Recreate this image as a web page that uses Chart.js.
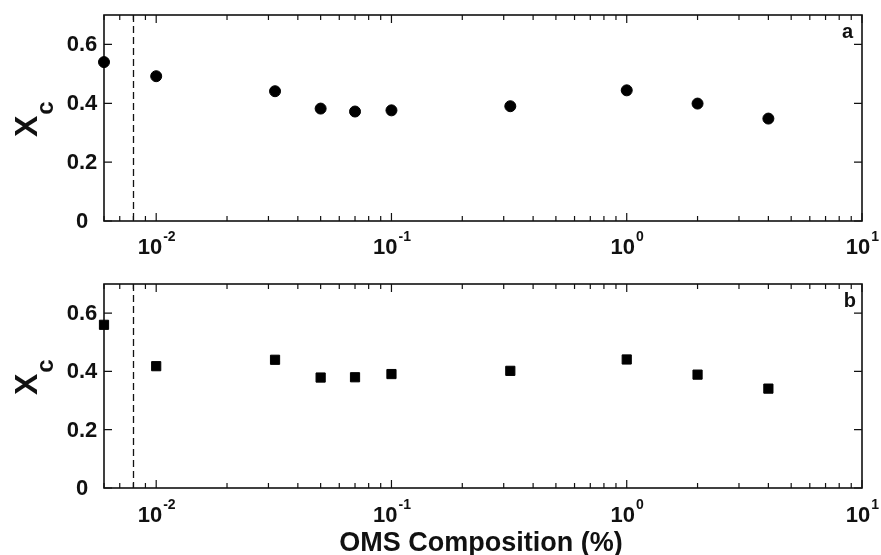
<!DOCTYPE html>
<html>
<head>
  <title>Xc vs OMS composition</title>
  <script src="https://cdn.jsdelivr.net/npm/chart.js"></script>
  <style>
    body { margin: 0; background: #fff; }
    .wrap { position: relative; width: 881px; height: 555px; }
    canvas { position: absolute; left: 0; }
    #panelA { top: 0; }
    #panelB { top: 270px; }
  </style>
</head>
<body>
<div class="wrap">
  <canvas id="panelA" width="881" height="270"></canvas>
  <canvas id="panelB" width="881" height="285"></canvas>
</div>
<script>
  // OMS composition (%) and crystallinity Xc for both sample sets
  const omsComposition = [0.006, 0.01, 0.032, 0.05, 0.07, 0.1, 0.32, 1, 2, 4];
  const xcSetA = [0.54, 0.492, 0.441, 0.382, 0.372, 0.376, 0.39, 0.444, 0.399, 0.348];
  const xcSetB = [0.56, 0.418, 0.44, 0.379, 0.38, 0.391, 0.402, 0.441, 0.389, 0.341];
  const yTicks = [0, 0.2, 0.4, 0.6];
  const xDecades = [-2, -1, 0, 1];
  const thresholdX = 0.008;

  const FONT = '"Liberation Sans", Arial, Helvetica, sans-serif';
  const INK = '#111';

  function drawPowerLabel(ctx, exp, x, baseline) {
    const base = '10', sup = String(exp);
    ctx.font = 'bold 22px ' + FONT;
    const wb = ctx.measureText(base).width;
    ctx.font = 'bold 14px ' + FONT;
    const ws = ctx.measureText(sup).width;
    const left = x - (wb + ws) / 2;
    ctx.textAlign = 'left';
    ctx.textBaseline = 'alphabetic';
    ctx.font = 'bold 22px ' + FONT;
    ctx.fillText(base, left, baseline);
    ctx.font = 'bold 14px ' + FONT;
    ctx.fillText(sup, left + wb + 1, baseline - 13);
  }

  // frame, inward ticks, labels and the dashed threshold line
  const framePlugin = {
    id: 'frame',
    beforeDatasetsDraw(chart, args, o) {
      const ctx = chart.ctx;
      const { left, right, top, bottom } = chart.chartArea;
      const xs = chart.scales.x, ys = chart.scales.y;
      ctx.save();
      ctx.fillStyle = INK;
      ctx.strokeStyle = INK;

      // dashed line
      ctx.lineWidth = 1.3;
      ctx.setLineDash([7, 4]);
      const dx = Math.round(xs.getPixelForValue(thresholdX)) + 0.5;
      ctx.beginPath();
      ctx.moveTo(dx, top);
      ctx.lineTo(dx, bottom);
      ctx.stroke();
      ctx.setLineDash([]);

      // box
      ctx.lineWidth = 1.6;
      ctx.strokeRect(left, top, right - left, bottom - top);

      // x ticks (log, major + minor)
      ctx.lineWidth = 1.2;
      ctx.beginPath();
      for (let e = -3; e <= 1; e++) {
        for (let k = 1; k <= 9; k++) {
          const v = k * Math.pow(10, e);
          if (v < xs.min - 1e-12 || v > xs.max + 1e-12) continue;
          const px = xs.getPixelForValue(v);
          const len = k === 1 ? 8 : 5;
          ctx.moveTo(px, bottom);
          ctx.lineTo(px, bottom - len);
          ctx.moveTo(px, top);
          ctx.lineTo(px, top + len);
        }
      }
      // y ticks both sides
      yTicks.forEach(v => {
        const py = ys.getPixelForValue(v);
        ctx.moveTo(left, py);
        ctx.lineTo(left + 8, py);
        ctx.moveTo(right, py);
        ctx.lineTo(right - 8, py);
      });
      ctx.stroke();

      // y tick labels
      ctx.font = 'bold 22px ' + FONT;
      ctx.textAlign = 'center';
      ctx.textBaseline = 'middle';
      yTicks.forEach(v => {
        ctx.fillText(v === 0 ? '0' : v.toFixed(1), 82, ys.getPixelForValue(v) + 1);
      });

      // x tick labels
      xDecades.forEach(e => {
        drawPowerLabel(ctx, e, xs.getPixelForValue(Math.pow(10, e)), o.xLabelBaseline);
      });

      // y axis title X_c
      ctx.save();
      ctx.translate(37, o.yTitleBottom);
      ctx.rotate(-Math.PI / 2);
      ctx.textAlign = 'left';
      ctx.textBaseline = 'alphabetic';
      ctx.font = 'bold 32px ' + FONT;
      ctx.fillText('X', 0, 0);
      const wx = ctx.measureText('X').width;
      ctx.font = 'bold 24px ' + FONT;
      ctx.fillText('c', wx + 1, 16);
      ctx.restore();

      // panel letter
      ctx.font = 'bold 20px ' + FONT;
      ctx.textAlign = 'right';
      ctx.textBaseline = 'alphabetic';
      ctx.fillText(o.letter, o.letterX, o.letterY);

      // x axis title
      if (o.xTitle) {
        ctx.font = 'bold 27px ' + FONT;
        ctx.textAlign = 'center';
        ctx.fillText(o.xTitle, 481, o.xTitleBaseline);
      }
      ctx.restore();
    }
  };

  function makePanel(id, values, style, radius, pad, frameOpts) {
    return new Chart(document.getElementById(id), {
      type: 'scatter',
      data: {
        datasets: [{
          data: omsComposition.map((x, i) => ({ x: x, y: values[i] })),
          pointStyle: style,
          pointRadius: radius,
          pointBorderWidth: 1,
          backgroundColor: '#000',
          borderColor: '#000',
          clip: false
        }]
      },
      options: {
        responsive: false,
        animation: false,
        events: [],
        layout: { padding: pad },
        scales: {
          x: { type: 'logarithmic', min: 0.006, max: 10, display: false },
          y: { type: 'linear', min: 0, max: 0.7, display: false }
        },
        plugins: {
          legend: { display: false },
          tooltip: { enabled: false },
          frame: frameOpts
        }
      },
      plugins: [framePlugin]
    });
  }

  makePanel('panelA', xcSetA, 'circle', 5.5,
    { left: 104, right: 19, top: 15, bottom: 49 },
    { letter: 'a', letterX: 853, letterY: 38, xLabelBaseline: 254, yTitleBottom: 137 });

  makePanel('panelB', xcSetB, 'rect', 6.5,
    { left: 104, right: 19, top: 14, bottom: 67 },
    { letter: 'b', letterX: 856, letterY: 37, xLabelBaseline: 252, yTitleBottom: 125,
      xTitle: 'OMS Composition (%)', xTitleBaseline: 281 });
</script>
</body>
</html>
